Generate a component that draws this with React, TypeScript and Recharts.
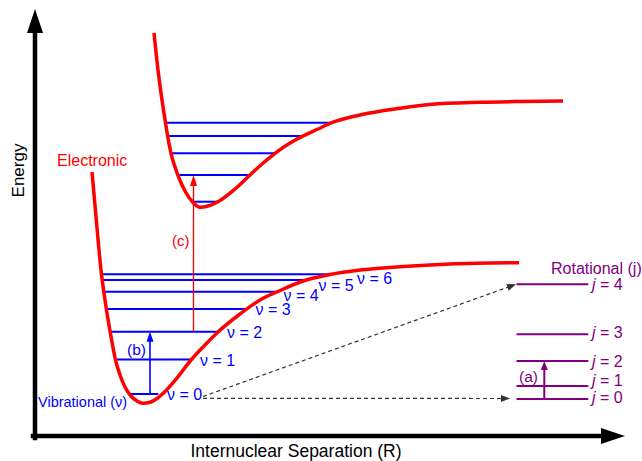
import { ComposedChart, Line, XAxis, YAxis, ReferenceLine, ReferenceDot } from 'recharts';

const FONT = '"Liberation Sans", Arial, sans-serif';
const RED = '#ff0000';
const BLUE = '#0000ff';
const PURPLE = '#800080';

// ground electronic state potential curve (R, E) in arbitrary units
const groundR = [57, 61.3, 66, 70, 75, 77.7, 80.5, 85, 90, 96, 102, 108, 115, 122, 130, 142, 156, 170, 183, 205, 225, 243, 268, 295, 325, 365, 415, 484];
const groundE = [264, 216, 166, 136, 105, 90, 76, 61, 49, 40, 35, 32.7, 33.7, 37.5, 44.5, 58, 76, 91, 104, 122, 136, 144.5, 155, 161.5, 166, 169.3, 172, 173.3];

// excited electronic state
const excitedR = [119, 123, 127, 130.5, 133, 136, 140, 144, 150, 158, 165, 173, 183, 200, 215, 227, 240, 255, 268, 283, 296.7, 325, 365, 395, 445, 485, 528];
const excitedE = [403, 366, 336, 313.3, 298, 282.7, 269, 258, 245, 233.5, 228.7, 230, 234.3, 247, 261, 272, 282.7, 293, 300, 307, 313.3, 321, 327.7, 331.5, 333.7, 334.5, 335];

// vibrational levels of the ground state
const vibQuanta = [0, 1, 2, 3, 4, 5, 6];
const vibE = [42, 76.5, 104.3, 127, 144.3, 156, 161.7];
const vibRmin = [95, 81, 75, 71.5, 69, 68, 67];
const vibRmax = [123.3, 156.5, 184, 211, 243, 268, 294];
const vibLabelR = [132, 165, 192, 220.5, 248.5, 283.5, 322];
const vibLabelE = [41.5, 76, 103.5, 126.5, 141, 151, 157.7];

// vibrational levels of the excited state
const excE = [234.3, 261, 282.7, 300, 313.3];
const excRmin = [158.3, 143.5, 136, 134, 130.5];
const excRmax = [183.3, 215, 240, 268.3, 296.7];

// rotational levels
const rotJ = [0, 1, 2, 3, 4];
const rotE = [37, 50, 75, 101.7, 151.7];
const rotR = [481.5, 553.3];
const rotLabelE = [39, 56, 75, 104, 152];
const rotLabelR = 557;

const groundCurve = groundR.map((r, i) => ({ r, e: groundE[i] }));
const excitedCurve = excitedR.map((r, i) => ({ r, e: excitedE[i] }));

const arrow = (color: string, width: number, head: number, half: number, dash?: string) => (p: any) => {
  const { x1, y1, x2, y2 } = p;
  const len = Math.hypot(x2 - x1, y2 - y1) || 1;
  const ux = (x2 - x1) / len;
  const uy = (y2 - y1) / len;
  const bx = x2 - ux * head;
  const by = y2 - uy * head;
  const pts = `${x2},${y2} ${bx - uy * half},${by + ux * half} ${bx + uy * half},${by - ux * half}`;
  return (
    <g>
      <line x1={x1} y1={y1} x2={bx + ux} y2={by + uy} stroke={color} strokeWidth={width} strokeDasharray={dash} strokeLinecap={dash ? 'butt' : 'square'} />
      <polygon points={pts} fill={color} />
    </g>
  );
};

const note = (key: string, r: number, e: number, color: string, size: number, content: any) => (
  <ReferenceDot
    key={key}
    x={r}
    y={e}
    r={0}
    ifOverflow="visible"
    shape={(p: any) => (
      <text x={p.cx} y={p.cy} fill={color} fontSize={size} fontFamily={FONT} dominantBaseline="central">
        {content}
      </text>
    )}
  />
);

export default function App() {
  return (
    <div style={{ position: 'absolute', left: 0, top: 0, width: 642, height: 461, background: '#fff' }}>
      <ComposedChart width={642} height={461} margin={{ top: 5, right: 7, bottom: 0, left: 0 }}>
        <XAxis
          type="number"
          dataKey="r"
          domain={[0, 600]}
          allowDataOverflow
          axisLine={false}
          tickLine={false}
          tick={false}
          height={25}
          label={() => (
            <text x={296} y={457} textAnchor="middle" fontSize={17.5} fontFamily={FONT} fill="#000">
              Internuclear Separation (R)
            </text>
          )}
        />
        <YAxis
          type="number"
          domain={[0, 431]}
          allowDataOverflow
          axisLine={false}
          tickLine={false}
          tick={false}
          width={35}
          label={() => (
            <text transform="translate(23.5,170.5) rotate(-90)" textAnchor="middle" fontSize={17} fontFamily={FONT} fill="#000">
              Energy
            </text>
          )}
        />

        {vibQuanta.map((v, i) => (
          <ReferenceLine key={`vib-${v}`} segment={[{ x: vibRmin[i], y: vibE[i] }, { x: vibRmax[i], y: vibE[i] }]} stroke={BLUE} strokeWidth={2} ifOverflow="visible" />
        ))}
        {excE.map((e, i) => (
          <ReferenceLine key={`exc-${i}`} segment={[{ x: excRmin[i], y: e }, { x: excRmax[i], y: e }]} stroke={BLUE} strokeWidth={2} ifOverflow="visible" />
        ))}
        {rotJ.map((j, i) => (
          <ReferenceLine key={`rot-${j}`} segment={[{ x: rotR[0], y: rotE[i] }, { x: rotR[1], y: rotE[i] }]} stroke={PURPLE} strokeWidth={2} ifOverflow="visible" />
        ))}

        <Line data={groundCurve} dataKey="e" type="monotone" stroke={RED} strokeWidth={3.5} dot={false} isAnimationActive={false} />
        <Line data={excitedCurve} dataKey="e" type="monotone" stroke={RED} strokeWidth={3.5} dot={false} isAnimationActive={false} />

        {/* axes with arrow heads */}
        <ReferenceLine segment={[{ x: 0, y: -2 }, { x: 0, y: 427 }]} ifOverflow="visible" shape={arrow('#000', 4.5, 24, 8)} />
        <ReferenceLine segment={[{ x: -2, y: 0 }, { x: 590, y: 0 }]} ifOverflow="visible" shape={arrow('#000', 4.5, 24, 8)} />

        {/* transitions */}
        <ReferenceLine segment={[{ x: 115, y: 42 }, { x: 115, y: 104.3 }]} ifOverflow="visible" shape={arrow(BLUE, 1.6, 10, 3.5)} />
        <ReferenceLine segment={[{ x: 158.5, y: 104.3 }, { x: 158.5, y: 261 }]} ifOverflow="visible" shape={arrow(RED, 1.3, 11, 3.5)} />
        <ReferenceLine segment={[{ x: 509.3, y: 37 }, { x: 509.3, y: 75 }]} ifOverflow="visible" shape={arrow(PURPLE, 2, 9, 3.5)} />
        <ReferenceLine segment={[{ x: 168, y: 39.5 }, { x: 481, y: 151.7 }]} ifOverflow="visible" shape={arrow('#333', 1.2, 9, 3.5, '4 3')} />
        <ReferenceLine segment={[{ x: 168, y: 37.7 }, { x: 475, y: 37.5 }]} ifOverflow="visible" shape={arrow('#333', 1.2, 9, 3.5, '4 3')} />

        {note('electronic', 22, 276, RED, 16, 'Electronic')}
        {note('vibrational', 3, 34, BLUE, 14.5, 'Vibrational (ν)')}
        {note('rotational', 516, 167.7, PURPLE, 16, 'Rotational (j)')}
        {note('a', 484, 60, PURPLE, 15.5, '(a)')}
        {note('b', 92, 87, BLUE, 15.5, '(b)')}
        {note('c', 137, 196, RED, 15, '(c)')}
        {vibQuanta.map((v, i) => note(`vl-${v}`, vibLabelR[i], vibLabelE[i], BLUE, 16, `ν = ${v}`))}
        {rotJ.map((j, i) =>
          note(`rl-${j}`, rotLabelR, rotLabelE[i], PURPLE, 16, (
            <>
              <tspan fontStyle="italic">j</tspan> = {j}
            </>
          ))
        )}
      </ComposedChart>
    </div>
  );
}
